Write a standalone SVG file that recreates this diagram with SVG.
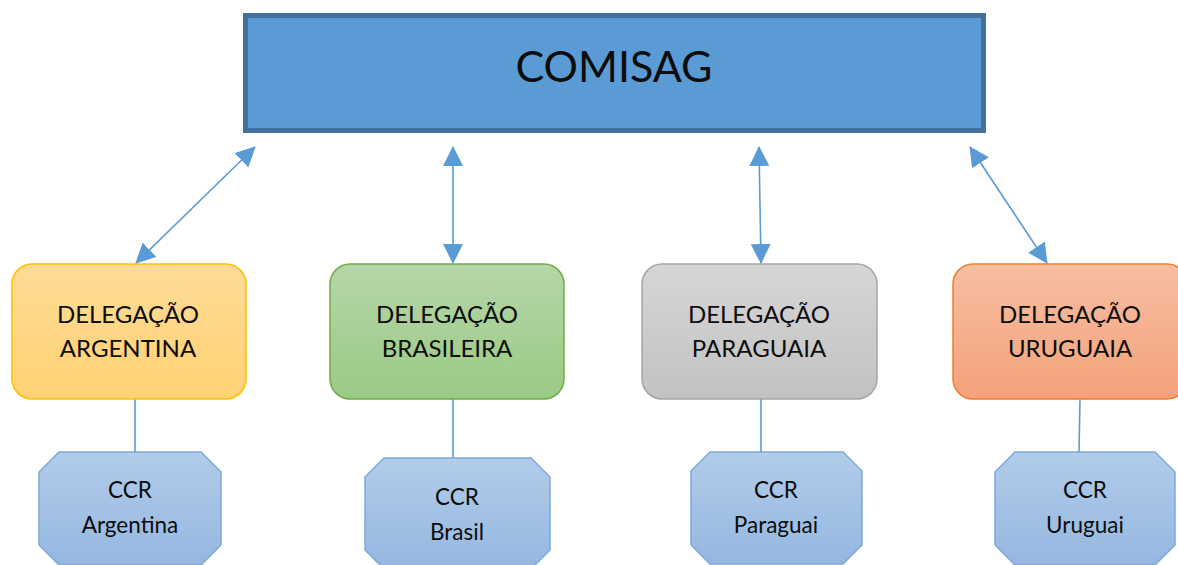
<svg xmlns="http://www.w3.org/2000/svg" width="1178" height="565" viewBox="0 0 1178 565">
<style>
.t{font-family:Lato,"Open Sans","Liberation Sans",sans-serif;fill:#0d0d0d;text-anchor:middle}
.dl{font-size:24px}
.cc{font-size:22.5px}
.con{stroke:#5B9BD5;stroke-width:1.6;fill:none}
.arr{marker-start:url(#ah);marker-end:url(#ah)}
.oct{fill:url(#gB);stroke:#7EA9DB;stroke-width:1.5}
</style>
<defs>
<marker id="ah" viewBox="0 0 20 20" refX="19" refY="10" markerWidth="20" markerHeight="20" markerUnits="userSpaceOnUse" orient="auto-start-reverse">
<path d="M0,0 L20,10 L0,20 Z" fill="#5B9BD5"/>
</marker>
<linearGradient id="gY" x1="0" y1="0" x2="0" y2="1"><stop offset="0" stop-color="#FEDB96"/><stop offset="1" stop-color="#FFD274"/></linearGradient>
<linearGradient id="gG" x1="0" y1="0" x2="0" y2="1"><stop offset="0" stop-color="#B6D6A8"/><stop offset="1" stop-color="#9ACA84"/></linearGradient>
<linearGradient id="gS" x1="0" y1="0" x2="0" y2="1"><stop offset="0" stop-color="#D6D6D6"/><stop offset="1" stop-color="#C2C2C2"/></linearGradient>
<linearGradient id="gO" x1="0" y1="0" x2="0" y2="1"><stop offset="0" stop-color="#F7BEA2"/><stop offset="1" stop-color="#F4A27B"/></linearGradient>
<linearGradient id="gB" x1="0" y1="0" x2="0" y2="1"><stop offset="0" stop-color="#B2CCEA"/><stop offset="1" stop-color="#95B7E0"/></linearGradient>
</defs>

<g id="connectors">
<line class="con arr" x1="255" y1="147" x2="136" y2="263"/>
<line class="con arr" x1="453" y1="147" x2="453" y2="263"/>
<line class="con arr" x1="759" y1="147" x2="761" y2="263"/>
<line class="con arr" x1="970" y1="147" x2="1047" y2="263"/>
<line class="con" x1="135" y1="399" x2="135" y2="452"/>
<line class="con" x1="453" y1="399" x2="453" y2="458"/>
<line class="con" x1="761" y1="399" x2="761" y2="452"/>
<line class="con" x1="1080" y1="399" x2="1079" y2="452"/>
</g>

<g id="comisag">
<rect x="245.5" y="15.5" width="738" height="115" fill="#5B9BD5" stroke="#41719C" stroke-width="5"/>
<text class="t" x="614" y="82" font-size="43">COMISAG</text>
</g>

<g id="del-argentina">
<rect x="12" y="264" width="234" height="135" rx="20" fill="url(#gY)" stroke="#FFC000" stroke-width="1.5"/>
<text class="t dl" x="128" y="323">DELEGAÇÃO</text>
<text class="t dl" x="128" y="357">ARGENTINA</text>
</g>
<g id="del-brasileira">
<rect x="330" y="264" width="234" height="135" rx="20" fill="url(#gG)" stroke="#70AD47" stroke-width="1.5"/>
<text class="t dl" x="447" y="323">DELEGAÇÃO</text>
<text class="t dl" x="447" y="357">BRASILEIRA</text>
</g>
<g id="del-paraguaia">
<rect x="642" y="264" width="235" height="135" rx="20" fill="url(#gS)" stroke="#A5A5A5" stroke-width="1.5"/>
<text class="t dl" x="759" y="323">DELEGAÇÃO</text>
<text class="t dl" x="759" y="357">PARAGUAIA</text>
</g>
<g id="del-uruguaia">
<rect x="953" y="264" width="234" height="135" rx="20" fill="url(#gO)" stroke="#ED7D31" stroke-width="1.5"/>
<text class="t dl" x="1070" y="323">DELEGAÇÃO</text>
<text class="t dl" x="1070" y="357">URUGUAIA</text>
</g>

<g id="ccr-argentina">
<path class="oct" d="M59,452 L201,452 L221,472 L221,545 L201,565 L59,565 L39,545 L39,472 Z"/>
<text class="t cc" x="130" y="498">CCR</text>
<text class="t cc" x="130" y="533">Argentina</text>
</g>
<g id="ccr-brasil">
<path class="oct" d="M384,458 L531,458 L550,477 L550,550 L531,569 L384,569 L365,550 L365,477 Z"/>
<text class="t cc" x="457" y="505">CCR</text>
<text class="t cc" x="457" y="540">Brasil</text>
</g>
<g id="ccr-paraguai">
<path class="oct" d="M710,452 L843,452 L862,471 L862,545 L843,564 L710,564 L691,545 L691,471 Z"/>
<text class="t cc" x="776" y="498">CCR</text>
<text class="t cc" x="776" y="533">Paraguai</text>
</g>
<g id="ccr-uruguai">
<path class="oct" d="M1015,452 L1155,452 L1175,472 L1175,545 L1155,565 L1015,565 L995,545 L995,472 Z"/>
<text class="t cc" x="1085" y="498">CCR</text>
<text class="t cc" x="1085" y="533">Uruguai</text>
</g>
</svg>
